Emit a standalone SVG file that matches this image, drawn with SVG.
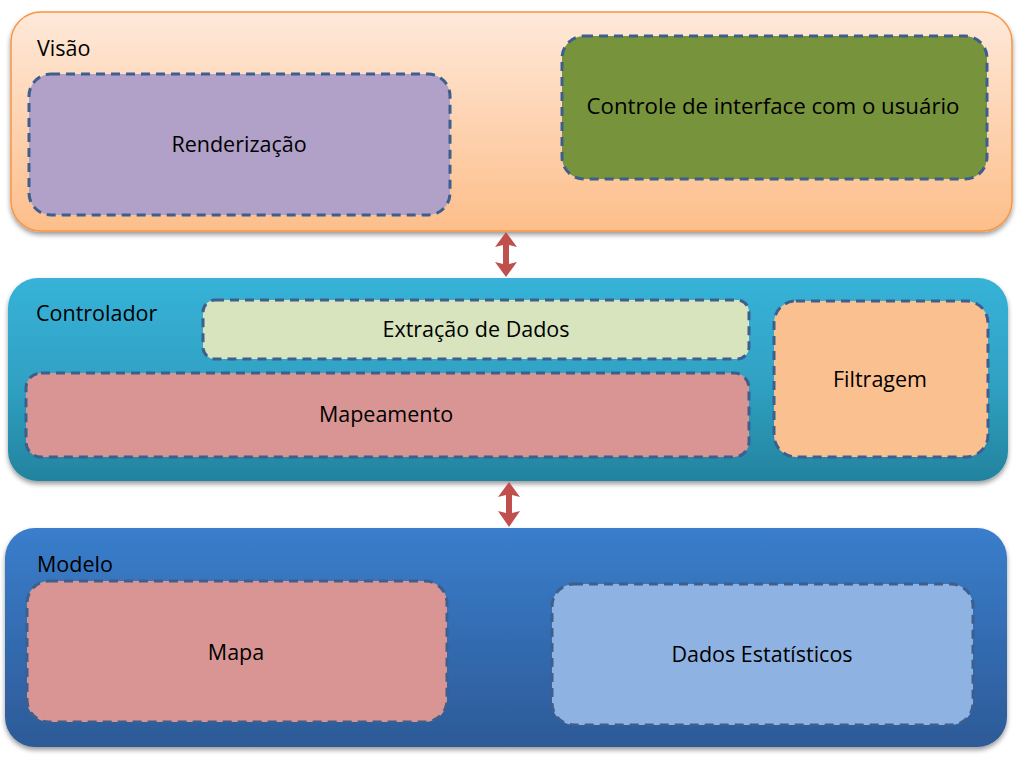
<svg xmlns="http://www.w3.org/2000/svg" width="1023" height="768" viewBox="0 0 1023 768">
<defs>
<linearGradient id="gV" x1="0" y1="0" x2="0" y2="1"><stop offset="0" stop-color="#FEE9DA"/><stop offset="1" stop-color="#FDBE8A"/></linearGradient>
<linearGradient id="gC" x1="0" y1="0" x2="0" y2="1"><stop offset="0" stop-color="#37B2D8"/><stop offset="0.5" stop-color="#30A2C4"/><stop offset="1" stop-color="#23839E"/></linearGradient>
<linearGradient id="gM" x1="0" y1="0" x2="0" y2="1"><stop offset="0" stop-color="#3A7ECC"/><stop offset="1" stop-color="#2D5A97"/></linearGradient>
<filter id="sh" x="-5%" y="-10%" width="110%" height="125%"><feGaussianBlur in="SourceAlpha" stdDeviation="2.5"/><feOffset dx="0" dy="3"/><feComponentTransfer><feFuncA type="linear" slope="0.4"/></feComponentTransfer><feMerge><feMergeNode/><feMergeNode in="SourceGraphic"/></feMerge></filter>
</defs>
<style>
.box{stroke:#3D5F8E;stroke-width:3;stroke-dasharray:9,6}
.t{font-family:"Open Sans","Noto Sans",sans-serif;font-size:21.5px;fill:#000}
.c{text-anchor:middle}
.arr{fill:#C0504D}
</style>
<rect width="1023" height="768" fill="#fff"/>
<g id="visao">
<rect x="11" y="12" width="1001" height="219" rx="30" fill="url(#gV)" stroke="#F79646" stroke-width="1.5" filter="url(#sh)"/>
<text class="t" x="37" y="56">Visão</text>
</g>
<g id="renderizacao">
<rect class="box" x="29" y="74" width="421" height="141" rx="22" fill="#B1A0C7"/>
<text class="t c" x="239" y="152">Renderização</text>
</g>
<g id="controle-interface">
<rect class="box" x="562" y="36" width="425" height="143" rx="22" fill="#77933C"/>
<text class="t c" x="773" y="114" textLength="373" lengthAdjust="spacingAndGlyphs">Controle de interface com o usuário</text>
</g>
<g id="controlador">
<rect x="8" y="278" width="1000" height="203" rx="30" fill="url(#gC)" filter="url(#sh)"/>
<text class="t" x="36" y="321">Controlador</text>
</g>
<g id="extracao">
<rect class="box" x="203" y="300" width="546" height="59" rx="12" fill="#D7E4BD"/>
<text class="t c" x="476" y="337">Extração de Dados</text>
</g>
<g id="mapeamento">
<rect class="box" x="26" y="373" width="723" height="84" rx="15" fill="#D99594"/>
<text class="t c" x="386" y="422">Mapeamento</text>
</g>
<g id="filtragem">
<rect class="box" x="774" y="301" width="214" height="156" rx="22" fill="#FAC090"/>
<text class="t c" x="880" y="387">Filtragem</text>
</g>
<g id="modelo">
<rect x="5" y="528" width="1002" height="219" rx="30" fill="url(#gM)" filter="url(#sh)"/>
<text class="t" x="37" y="572">Modelo</text>
</g>
<g id="mapa">
<rect class="box" x="27" y="581" width="420" height="141" rx="22" fill="#D99594"/>
<text class="t c" x="236" y="660">Mapa</text>
</g>
<g id="dados-estatisticos">
<rect class="box" x="552" y="584" width="421" height="141" rx="22" fill="#8EB3E2"/>
<text class="t c" x="762" y="662">Dados Estatísticos</text>
</g>
<g id="connectors">
<path class="arr" d="M506,232 L517,247 L509,245 L509,264 L517,262 L506,277 L495,262 L503,264 L503,245 L495,247 Z"/>
<path class="arr" d="M509,482 L520,497 L512,495 L512,513 L520,511 L509,527 L498,511 L506,513 L506,495 L498,497 Z"/>
</g>
</svg>
